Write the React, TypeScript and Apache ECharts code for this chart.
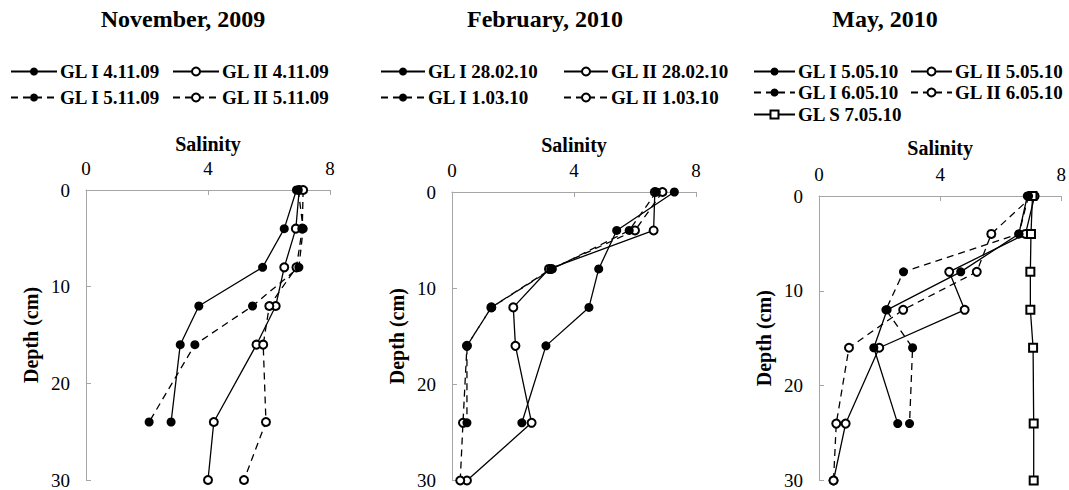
import React, { useEffect, useRef } from "react";
import * as echarts from "echarts";

// Sampling depths (cm)
const depths = [0, 4, 8, 12, 16, 24, 30];

// Salinity tick labels on the top axis
const salinityTicks = [0, 4, 8];

// November, 2009
const glI_041109 = [6.9, 6.5, 5.79, 3.7, 3.09, 2.79];
const glII_041109 = [6.99, 6.88, 6.5, 6.22, 5.59, 4.19, 4.0];
const glI_051109 = [6.96, 7.12, 6.98, 5.46, 3.57, 2.07];
const glII_051109 = [7.12, 7.09, 6.9, 6.01, 5.81, 5.9, 5.18];

// February, 2010
const glI_280210 = [7.29, 5.4, 4.81, 4.49, 3.08, 2.29];
const glII_280210 = [6.65, 6.61, 3.18, 2.01, 2.08, 2.61, 0.49];
const glI_010310 = [6.7, 5.81, 3.29, 1.29, 0.49, 0.49];
const glII_010310 = [6.9, 6.0, 3.25, 1.29, 0.49, 0.36, 0.27];

// May, 2010
const glI_050510 = [6.88, 6.6, 4.68, 2.25, 1.81, 2.6];
const glII_050510 = [7.12, 6.82, 4.3, 4.81, 1.99, 0.88, 0.48];
const glI_060510 = [6.92, 6.6, 2.79, 2.21, 3.09, 2.99];
const glII_060510 = [7.05, 5.69, 5.21, 2.78, 0.99, 0.57, 0.48];
const glS_070510 = [7.05, 7.0, 6.98, 6.98, 7.07, 7.09, 7.09];

const panelTitles = ["November, 2009", "February, 2010", "May, 2010"];

type Kind = "solidFilled" | "solidOpen" | "dashedFilled" | "dashedOpen" | "solidSquare";

const panels: { name: string; values: number[]; kind: Kind }[][] = [
  [
    { name: "GL I 4.11.09", values: glI_041109, kind: "solidFilled" },
    { name: "GL II 4.11.09", values: glII_041109, kind: "solidOpen" },
    { name: "GL I 5.11.09", values: glI_051109, kind: "dashedFilled" },
    { name: "GL II 5.11.09", values: glII_051109, kind: "dashedOpen" },
  ],
  [
    { name: "GL I 28.02.10", values: glI_280210, kind: "solidFilled" },
    { name: "GL II 28.02.10", values: glII_280210, kind: "solidOpen" },
    { name: "GL I 1.03.10", values: glI_010310, kind: "dashedFilled" },
    { name: "GL II 1.03.10", values: glII_010310, kind: "dashedOpen" },
  ],
  [
    { name: "GL I 5.05.10", values: glI_050510, kind: "solidFilled" },
    { name: "GL II 5.05.10", values: glII_050510, kind: "solidOpen" },
    { name: "GL I 6.05.10", values: glI_060510, kind: "dashedFilled" },
    { name: "GL II 6.05.10", values: glII_060510, kind: "dashedOpen" },
    { name: "GL S 7.05.10", values: glS_070510, kind: "solidSquare" },
  ],
];

const SERIF = "Liberation Serif";

// Plot areas and legend layout per panel
const grids = [
  { left: 86, top: 190, width: 244, height: 290 },
  { left: 452, top: 192, width: 244, height: 290 },
  { left: 819, top: 196, width: 244, height: 289 },
];
const titleCenters = [183, 545, 885];
const legendSpots = [
  { w: 46, spots: [[10, 71], [172, 71], [10, 97], [172, 97]] },
  { w: 44, spots: [[380, 71], [563, 71], [380, 97], [563, 97]] },
  { w: 41, spots: [[753, 71], [910, 71], [753, 92], [910, 92], [753, 114]] },
];
const salinityNameGap = [36, 37, 38];

function styleFor(kind: Kind) {
  const dashed = kind === "dashedFilled" || kind === "dashedOpen";
  const filled = kind === "solidFilled" || kind === "dashedFilled";
  return {
    symbol: kind === "solidSquare" ? "emptyRect" : filled ? "circle" : "emptyCircle",
    symbolSize: kind === "solidSquare" ? 8 : filled ? 9 : 8,
    lineStyle: { color: "#000", width: 1.3, type: dashed ? [7, 5] : "solid" },
    itemStyle: { color: "#000", borderColor: "#000", borderWidth: filled ? 0 : 1 },
  };
}

export default function App() {
  const ref = useRef<HTMLDivElement>(null);

  useEffect(() => {
    if (!ref.current) return;
    const chart = echarts.init(ref.current, null, { renderer: "svg" });

    const xAxes: any[] = [];
    const yAxes: any[] = [];
    const series: any[] = [];
    const legends: any[] = [];
    const titles: any[] = [];

    panels.forEach((panel, p) => {
      titles.push({
        text: panelTitles[p],
        left: titleCenters[p],
        top: 7,
        textAlign: "center",
        padding: 0,
        textStyle: { fontFamily: SERIF, fontWeight: "bold", fontSize: 24, color: "#000" },
      });

      xAxes.push({
        gridIndex: p,
        type: "value",
        position: "top",
        min: salinityTicks[0],
        max: salinityTicks[salinityTicks.length - 1],
        interval: salinityTicks[1] - salinityTicks[0],
        name: "Salinity",
        nameLocation: "middle",
        nameGap: salinityNameGap[p],
        nameTextStyle: { fontFamily: SERIF, fontWeight: "bold", fontSize: 20, color: "#000" },
        axisLine: { show: true, lineStyle: { color: "#a6a6a6", width: 1 } },
        axisTick: { show: true, inside: true, length: 5, lineStyle: { color: "#a6a6a6" } },
        axisLabel: { fontFamily: SERIF, fontSize: 19, color: "#000", margin: 12 },
        splitLine: { show: false },
      });

      yAxes.push({
        gridIndex: p,
        type: "value",
        inverse: true,
        min: 0,
        max: 30,
        interval: 10,
        name: "Depth (cm)",
        nameLocation: "middle",
        nameGap: 45,
        nameRotate: 90,
        nameTextStyle: { fontFamily: SERIF, fontWeight: "bold", fontSize: 20, color: "#000" },
        axisLine: { show: true, lineStyle: { color: "#a6a6a6", width: 1 } },
        axisTick: { show: true, inside: true, length: 5, lineStyle: { color: "#a6a6a6" } },
        axisLabel: { fontFamily: SERIF, fontSize: 19, color: "#000", margin: 16 },
        splitLine: { show: false },
      });

      panel.forEach((s, i) => {
        const st = styleFor(s.kind);
        series.push({
          type: "line",
          name: s.name,
          xAxisIndex: p,
          yAxisIndex: p,
          data: s.values.map((v, k) => [v, depths[k]]),
          symbol: st.symbol,
          symbolSize: st.symbolSize,
          lineStyle: st.lineStyle,
          itemStyle: st.itemStyle,
          z: s.kind.endsWith("Filled") ? 3 : 2,
        });

        const [lx, ly] = legendSpots[p].spots[i];
        legends.push({
          data: [s.name],
          left: lx,
          top: ly - 9,
          padding: 0,
          itemWidth: legendSpots[p].w,
          itemHeight: 10,
          selectedMode: false,
          textStyle: { fontFamily: SERIF, fontWeight: "bold", fontSize: 19, color: "#000", padding: [0, 0, 0, -2] },
        });
      });
    });

    chart.setOption({
      animation: false,
      backgroundColor: "#fff",
      textStyle: { fontFamily: SERIF },
      title: titles,
      legend: legends,
      grid: grids.map((g) => ({ ...g, containLabel: false })),
      xAxis: xAxes,
      yAxis: yAxes,
      series,
    });

    return () => chart.dispose();
  }, []);

  return (
    <div
      ref={ref}
      style={{ position: "fixed", left: 0, top: 0, width: 1069, height: 490, background: "#fff" }}
    />
  );
}
